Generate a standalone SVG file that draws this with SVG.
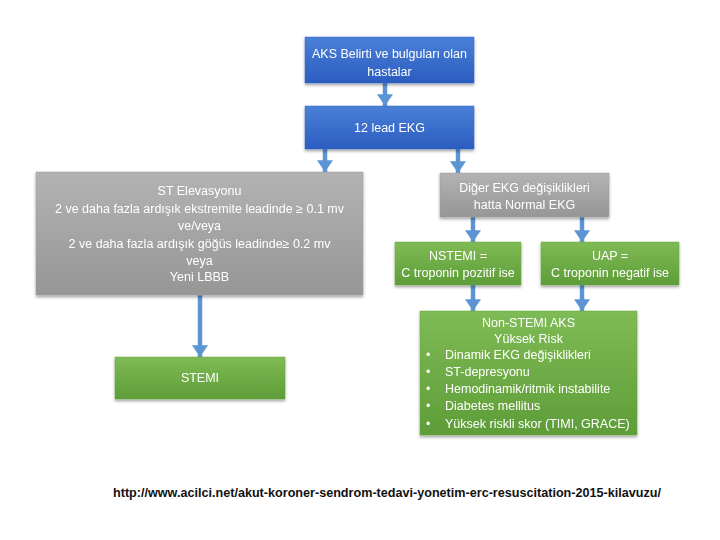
<svg xmlns="http://www.w3.org/2000/svg" width="720" height="540" viewBox="0 0 720 540">
<defs>
<linearGradient id="gBlue" x1="0" y1="0" x2="0" y2="1"><stop offset="0" stop-color="#4a80d8"/><stop offset="1" stop-color="#2b5cc0"/></linearGradient>
<linearGradient id="gGray" x1="0" y1="0" x2="0" y2="1"><stop offset="0" stop-color="#b3b3b3"/><stop offset="1" stop-color="#969696"/></linearGradient>
<linearGradient id="gGreen" x1="0" y1="0" x2="0" y2="1"><stop offset="0" stop-color="#7fbb55"/><stop offset="1" stop-color="#5e9d38"/></linearGradient>
<filter id="sh" x="-10%" y="-10%" width="120%" height="130%"><feDropShadow dx="0" dy="2" stdDeviation="1.5" flood-color="#000" flood-opacity="0.35"/></filter>
<marker id="ah" markerUnits="userSpaceOnUse" markerWidth="12" markerHeight="16" refX="11" refY="7.5" orient="auto" viewBox="0 0 11 15">
<path d="M0,0 L11,7.5 L0,15 Z" fill="#5b95d4"/>
</marker>
</defs>
<style>
.bx{filter:url(#sh);}
.blue{fill:url(#gBlue);stroke:#3a69c4;stroke-width:0.5;}
.gray{fill:url(#gGray);stroke:#9a9a9a;stroke-width:0.5;}
.green{fill:url(#gGreen);stroke:#6aa645;stroke-width:0.5;}
text{font-family:"Liberation Sans","Noto Sans",Arial,sans-serif;font-size:12.5px;fill:#ffffff;}
.c{text-anchor:middle;}
.cn line{stroke:#5b95d4;stroke-width:4.5;marker-end:url(#ah);}
.url{font-family:"Liberation Sans",Arial,sans-serif;font-weight:bold;font-size:13px;fill:#111;}
</style>
<rect width="720" height="540" fill="#ffffff"/>

<g class="cn" id="connectors">
<line x1="385" y1="83" x2="385" y2="106"/>
<line x1="325" y1="149" x2="325" y2="172"/>
<line x1="458" y1="149" x2="458" y2="173"/>
<line x1="473" y1="217" x2="473" y2="242"/>
<line x1="582" y1="217" x2="582" y2="242"/>
<line x1="473" y1="285" x2="473" y2="311"/>
<line x1="582" y1="285" x2="582" y2="311"/>
<line x1="200" y1="295" x2="200" y2="357"/>
</g>

<g id="n1" class="bx"><rect class="blue" x="305" y="37" width="169" height="46"/>
<text class="c" x="389.5" y="57.5">AKS Belirti ve bulguları olan</text>
<text class="c" x="389.5" y="76">hastalar</text></g>

<g id="n2" class="bx"><rect class="blue" x="305" y="106" width="169" height="43"/>
<text class="c" x="389.5" y="132">12 lead EKG</text></g>

<g id="n3" class="bx"><rect class="gray" x="36" y="172" width="327" height="123"/>
<text class="c" x="199.5" y="195">ST Elevasyonu</text>
<text class="c" x="199.5" y="213">2 ve daha fazla ardışık ekstremite leadinde ≥ 0.1 mv</text>
<text class="c" x="199.5" y="230">ve/veya</text>
<text class="c" x="199.5" y="248">2 ve daha fazla ardışık göğüs leadinde≥ 0.2 mv</text>
<text class="c" x="199.5" y="265">veya</text>
<text class="c" x="199.5" y="281">Yeni LBBB</text></g>

<g id="n4" class="bx"><rect class="gray" x="440" y="173" width="169" height="44"/>
<text class="c" x="524.5" y="192">Diğer EKG değişiklikleri</text>
<text class="c" x="524.5" y="209">hatta Normal EKG</text></g>

<g id="n5" class="bx"><rect class="green" x="395" y="242" width="126" height="43"/>
<text class="c" x="458" y="260">NSTEMI =</text>
<text class="c" x="458" y="277">C troponin pozitif ise</text></g>

<g id="n6" class="bx"><rect class="green" x="541" y="242" width="138" height="43"/>
<text class="c" x="610" y="260">UAP =</text>
<text class="c" x="610" y="277">C troponin negatif ise</text></g>

<g id="n7" class="bx"><rect class="green" x="420" y="311" width="217" height="124"/>
<text class="c" x="528.5" y="327">Non-STEMI AKS</text>
<text class="c" x="528.5" y="343">Yüksek Risk</text>
<text x="426" y="359">•</text><text x="445" y="359">Dinamik EKG değişiklikleri</text>
<text x="426" y="376">•</text><text x="445" y="376">ST-depresyonu</text>
<text x="426" y="393">•</text><text x="445" y="393">Hemodinamik/ritmik instabilite</text>
<text x="426" y="410">•</text><text x="445" y="410">Diabetes mellitus</text>
<text x="426" y="428">•</text><text x="445" y="428">Yüksek riskli skor (TIMI, GRACE)</text></g>

<g id="n8" class="bx"><rect class="green" x="115" y="357" width="170" height="42"/>
<text class="c" x="200" y="382">STEMI</text></g>

<text class="url" x="113" y="497" textLength="548" lengthAdjust="spacingAndGlyphs">http://www.acilci.net/akut-koroner-sendrom-tedavi-yonetim-erc-resuscitation-2015-kilavuzu/</text>
</svg>
